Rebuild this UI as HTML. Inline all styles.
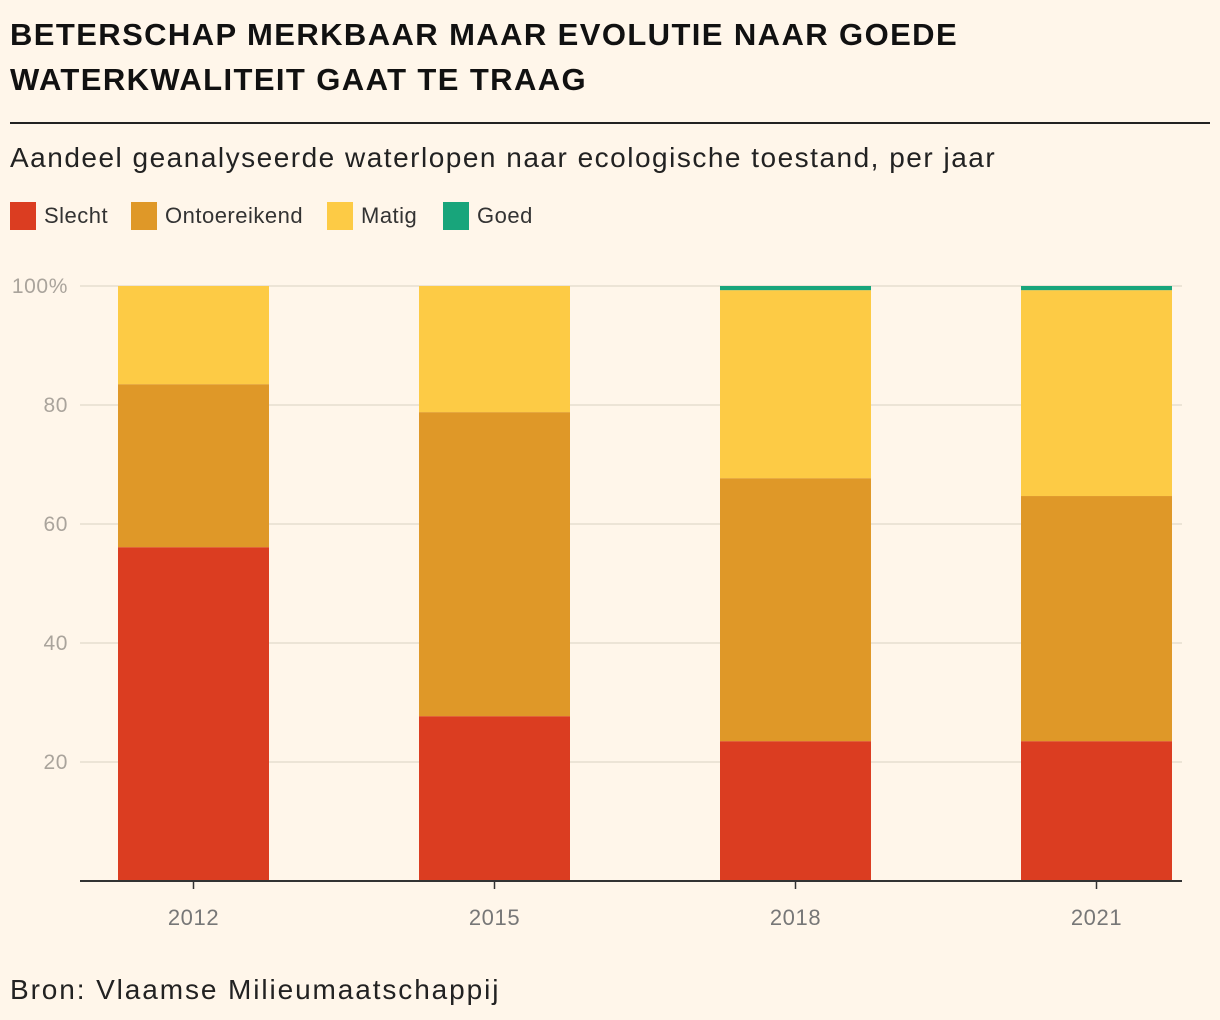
<!DOCTYPE html>
<html><head><meta charset="utf-8"><style>
body{margin:0;background:#fff6ea;font-family:"Liberation Sans",sans-serif;}
#wrap{position:relative;width:1220px;height:1020px;overflow:hidden;background:#fff6ea}
h1{position:absolute;left:10px;top:12px;margin:0;font-size:31px;line-height:45px;font-weight:bold;color:#111;letter-spacing:1.4px}
#rule{position:absolute;left:10px;top:122px;width:1200px;height:2px;background:#222}
#sub{position:absolute;left:10px;top:142px;font-size:28px;color:#222;letter-spacing:1.5px}
.leg{position:absolute;top:202px;font-size:22px;color:#333;line-height:28px;letter-spacing:0.5px}
.leg span{display:inline-block;width:26px;height:28px;vertical-align:top;margin-right:8px}
#src{position:absolute;left:10px;top:974px;font-size:28px;color:#222;letter-spacing:1.9px}
</style></head><body><div id="wrap">
<h1>BETERSCHAP MERKBAAR MAAR EVOLUTIE NAAR GOEDE<br>WATERKWALITEIT GAAT TE TRAAG</h1>
<div id="rule"></div>
<div id="sub">Aandeel geanalyseerde waterlopen naar ecologische toestand, per jaar</div>
<div class="leg" style="left:10px"><span style="background:#db3d21"></span>Slecht</div>
<div class="leg" style="left:131px"><span style="background:#df9828"></span>Ontoereikend</div>
<div class="leg" style="left:327px"><span style="background:#fdcb45"></span>Matig</div>
<div class="leg" style="left:443px"><span style="background:#18a57b"></span>Goed</div>
<svg id="svg" width="1220" height="1020" style="position:absolute;left:0;top:0"></svg>
<div id="src">Bron: Vlaamse Milieumaatschappij</div>
</div>
<script>
const years=["2012","2015","2018","2021"];
const slecht=[56.1,27.7,23.5,23.5];
const ontoereikend=[27.4,51.1,44.2,41.2];
const matig=[16.5,21.2,31.6,34.6];
const goed=[0,0,0.7,0.7];
const yTicks=[20,40,60,80,100];
const seriesVals=[slecht,ontoereikend,matig,goed];
const seriesNames=["slecht","ontoereikend","matig","goed"];
const colors=["#db3d21","#df9828","#fdcb45","#18a57b"];
const svg=document.getElementById('svg');const NS="http://www.w3.org/2000/svg";
const y=v=>881-v*5.95;
const xc=i=>193.5+i*301;
const bw=151;
function mk(t,a){const e=document.createElementNS(NS,t);for(const k in a)e.setAttribute(k,a[k]);svg.appendChild(e);return e;}
yTicks.forEach(t=>{
 const g=mk('line',{x1:80,x2:1182,y1:y(t),y2:y(t),stroke:'#e5ddd0','stroke-width':1.5});
 
 
 const l=mk('text',{x:68,y:y(t)+7,'text-anchor':'end','font-size':21,'letter-spacing':0.6,fill:'#aaa49c','font-family':'Liberation Sans'});
 l.textContent=t===100?'100%':t;
 
 
});
years.forEach((yr,i)=>{
 let base=0;
 seriesVals.forEach((s,k)=>{
  const v=s[i];if(v<=0)return;
  const r=mk('rect',{x:xc(i)-bw/2,y:y(base+v),width:bw,height:v*5.95,fill:colors[k]});
  
  
  base+=v;
 });
 const tk=mk('line',{x1:xc(i),x2:xc(i),y1:881,y2:889,stroke:'#333','stroke-width':1.5});
 
 
 const t=mk('text',{x:xc(i),y:925,'text-anchor':'middle','font-size':22,'letter-spacing':0.6,fill:'#777','font-family':'Liberation Sans'});
 t.textContent=yr;
 
 
});
const ax=mk('line',{x1:80,x2:1182,y1:881,y2:881,stroke:'#333','stroke-width':2});


</script></body></html>
